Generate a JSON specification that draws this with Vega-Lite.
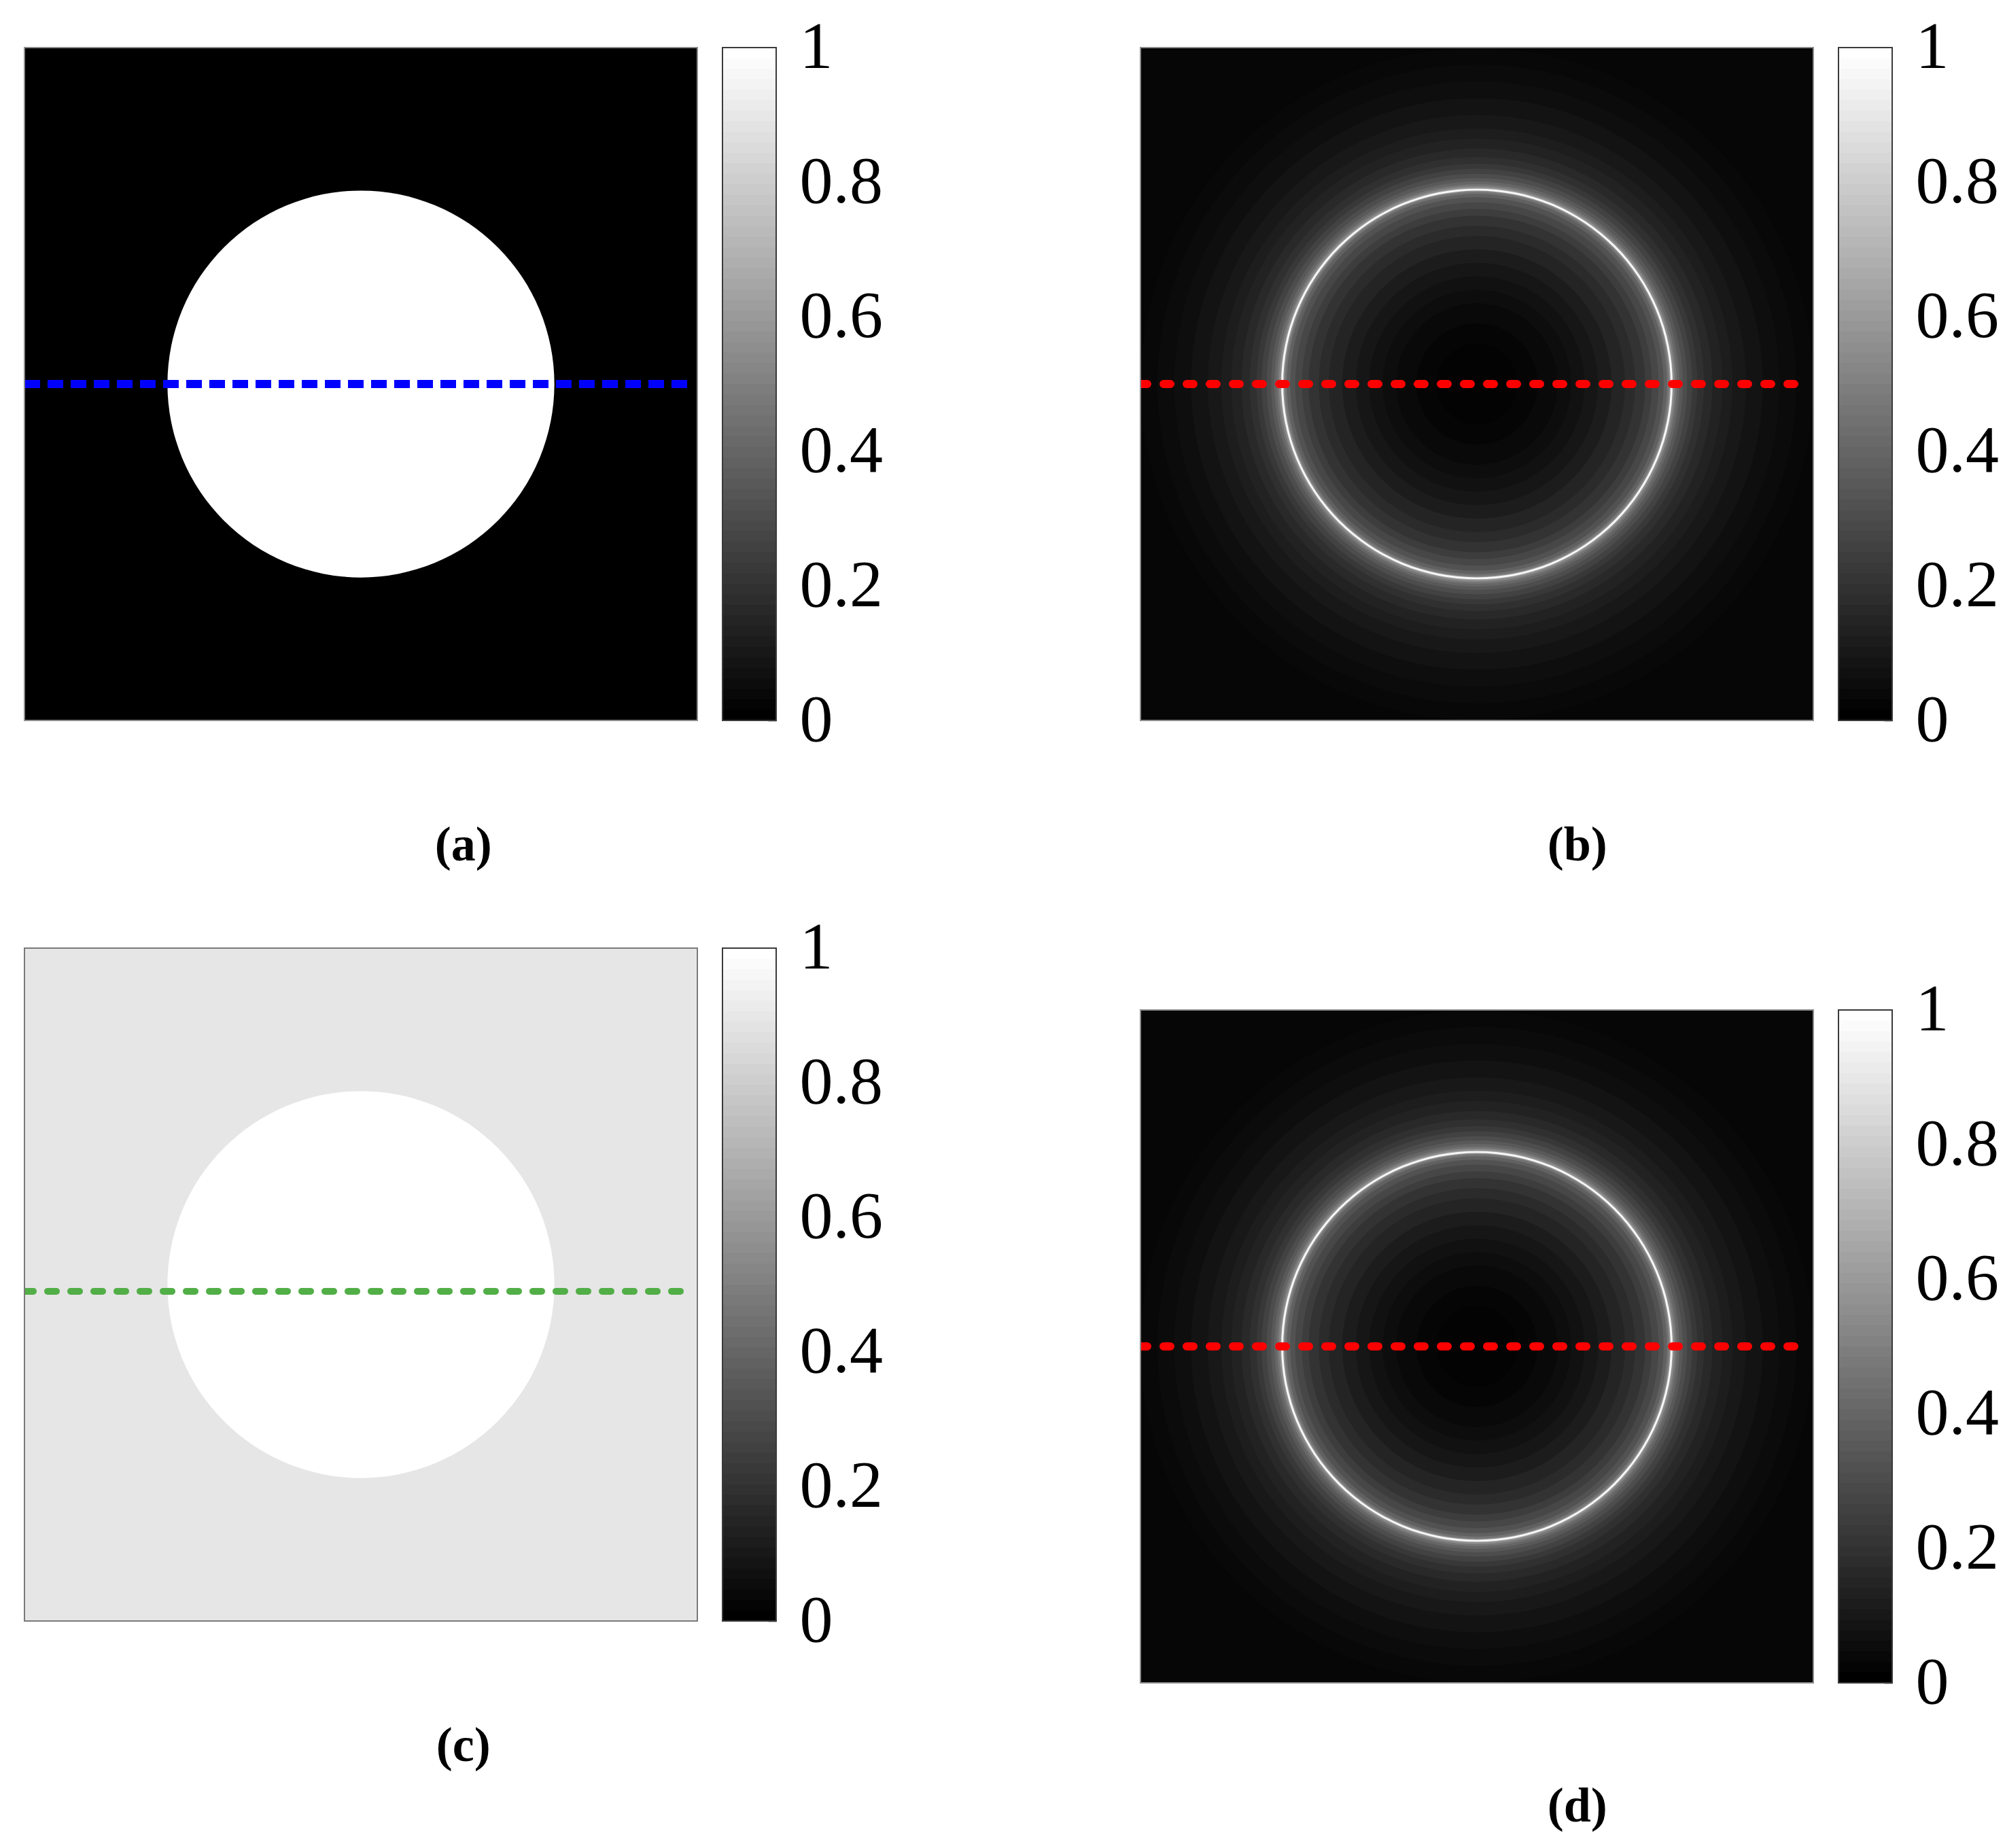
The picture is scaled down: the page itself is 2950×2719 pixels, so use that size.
{
  "$schema": "https://vega.github.io/schema/vega-lite/v6.json",
  "background": "white",
  "padding": {"left": 35, "top": 21, "right": 0, "bottom": 18},
  "config": {
    "view": {"stroke": null},
    "font": "Liberation Serif",
    "title": {"font": "Liberation Serif", "color": "#000000"}
  },
  "datasets": {
    "sq_black": [{"x0": -1, "x1": 1, "y0": -1, "y1": 1, "v": 0}],
    "sq_dark": [{"x0": -1, "x1": 1, "y0": -1, "y1": 1, "v": 0.025}],
    "sq_gray": [{"x0": -1, "x1": 1, "y0": -1, "y1": 1, "v": 0.9}],
    "disk": [{"cx": 0, "cy": 0, "r": 0.575, "v": 1}],
    "glow": [
      {"cx": 0, "cy": 0, "r": 1.0, "v": 0.033},
      {"cx": 0, "cy": 0, "r": 0.95, "v": 0.043},
      {"cx": 0, "cy": 0, "r": 0.9, "v": 0.056},
      {"cx": 0, "cy": 0, "r": 0.85, "v": 0.073},
      {"cx": 0, "cy": 0, "r": 0.8, "v": 0.093},
      {"cx": 0, "cy": 0, "r": 0.76, "v": 0.113},
      {"cx": 0, "cy": 0, "r": 0.73, "v": 0.135},
      {"cx": 0, "cy": 0, "r": 0.7, "v": 0.16},
      {"cx": 0, "cy": 0, "r": 0.675, "v": 0.19},
      {"cx": 0, "cy": 0, "r": 0.655, "v": 0.22},
      {"cx": 0, "cy": 0, "r": 0.64, "v": 0.26},
      {"cx": 0, "cy": 0, "r": 0.625, "v": 0.3},
      {"cx": 0, "cy": 0, "r": 0.612, "v": 0.35},
      {"cx": 0, "cy": 0, "r": 0.602, "v": 0.4},
      {"cx": 0, "cy": 0, "r": 0.594, "v": 0.46},
      {"cx": 0, "cy": 0, "r": 0.588, "v": 0.54},
      {"cx": 0, "cy": 0, "r": 0.583, "v": 0.65},
      {"cx": 0, "cy": 0, "r": 0.5805, "v": 0.97},
      {"cx": 0, "cy": 0, "r": 0.5745, "v": 0.55},
      {"cx": 0, "cy": 0, "r": 0.571, "v": 0.45},
      {"cx": 0, "cy": 0, "r": 0.565, "v": 0.38},
      {"cx": 0, "cy": 0, "r": 0.555, "v": 0.32},
      {"cx": 0, "cy": 0, "r": 0.54, "v": 0.28},
      {"cx": 0, "cy": 0, "r": 0.52, "v": 0.24},
      {"cx": 0, "cy": 0, "r": 0.5, "v": 0.2},
      {"cx": 0, "cy": 0, "r": 0.47, "v": 0.17},
      {"cx": 0, "cy": 0, "r": 0.44, "v": 0.14},
      {"cx": 0, "cy": 0, "r": 0.4, "v": 0.11},
      {"cx": 0, "cy": 0, "r": 0.36, "v": 0.085},
      {"cx": 0, "cy": 0, "r": 0.32, "v": 0.065},
      {"cx": 0, "cy": 0, "r": 0.28, "v": 0.05},
      {"cx": 0, "cy": 0, "r": 0.24, "v": 0.035},
      {"cx": 0, "cy": 0, "r": 0.18, "v": 0.02},
      {"cx": 0, "cy": 0, "r": 0.12, "v": 0.01}
    ],
    "line_mid": [{"x": -1, "y": 0}, {"x": 0.985, "y": 0}],
    "line_low": [{"x": -1, "y": -0.02}, {"x": 0.99, "y": -0.02}],
    "frame": [{"lo": 0, "hi": 1}],
    "cbar": [
      {"lo": 0, "v": 0}, {"lo": 0.015625, "v": 0.0159}, {"lo": 0.03125, "v": 0.0317}, {"lo": 0.046875, "v": 0.0476},
      {"lo": 0.0625, "v": 0.0635}, {"lo": 0.078125, "v": 0.0794}, {"lo": 0.09375, "v": 0.0952}, {"lo": 0.109375, "v": 0.1111},
      {"lo": 0.125, "v": 0.127}, {"lo": 0.140625, "v": 0.1429}, {"lo": 0.15625, "v": 0.1587}, {"lo": 0.171875, "v": 0.1746},
      {"lo": 0.1875, "v": 0.1905}, {"lo": 0.203125, "v": 0.2063}, {"lo": 0.21875, "v": 0.2222}, {"lo": 0.234375, "v": 0.2381},
      {"lo": 0.25, "v": 0.254}, {"lo": 0.265625, "v": 0.2698}, {"lo": 0.28125, "v": 0.2857}, {"lo": 0.296875, "v": 0.3016},
      {"lo": 0.3125, "v": 0.3175}, {"lo": 0.328125, "v": 0.3333}, {"lo": 0.34375, "v": 0.3492}, {"lo": 0.359375, "v": 0.3651},
      {"lo": 0.375, "v": 0.381}, {"lo": 0.390625, "v": 0.3968}, {"lo": 0.40625, "v": 0.4127}, {"lo": 0.421875, "v": 0.4286},
      {"lo": 0.4375, "v": 0.4444}, {"lo": 0.453125, "v": 0.4603}, {"lo": 0.46875, "v": 0.4762}, {"lo": 0.484375, "v": 0.4921},
      {"lo": 0.5, "v": 0.5079}, {"lo": 0.515625, "v": 0.5238}, {"lo": 0.53125, "v": 0.5397}, {"lo": 0.546875, "v": 0.5556},
      {"lo": 0.5625, "v": 0.5714}, {"lo": 0.578125, "v": 0.5873}, {"lo": 0.59375, "v": 0.6032}, {"lo": 0.609375, "v": 0.619},
      {"lo": 0.625, "v": 0.6349}, {"lo": 0.640625, "v": 0.6508}, {"lo": 0.65625, "v": 0.6667}, {"lo": 0.671875, "v": 0.6825},
      {"lo": 0.6875, "v": 0.6984}, {"lo": 0.703125, "v": 0.7143}, {"lo": 0.71875, "v": 0.7302}, {"lo": 0.734375, "v": 0.746},
      {"lo": 0.75, "v": 0.7619}, {"lo": 0.765625, "v": 0.7778}, {"lo": 0.78125, "v": 0.7937}, {"lo": 0.796875, "v": 0.8095},
      {"lo": 0.8125, "v": 0.8254}, {"lo": 0.828125, "v": 0.8413}, {"lo": 0.84375, "v": 0.8571}, {"lo": 0.859375, "v": 0.873},
      {"lo": 0.875, "v": 0.8889}, {"lo": 0.890625, "v": 0.9048}, {"lo": 0.90625, "v": 0.9206}, {"lo": 0.921875, "v": 0.9365},
      {"lo": 0.9375, "v": 0.9524}, {"lo": 0.953125, "v": 0.9683}, {"lo": 0.96875, "v": 0.9841}, {"lo": 0.984375, "v": 1}
    ]
  },
  "spacing": 378,
  "hconcat": [
    {
      "spacing": 66,
      "vconcat": [
        {
          "title": {"text": "(a)", "orient": "bottom", "anchor": "middle", "frame": "bounds", "fontSize": 72, "fontWeight": "bold", "offset": 100, "dx": 15},
          "bounds": "flush",
          "spacing": 37,
          "hconcat": [
            {
              "width": 990, "height": 990,
              "layer": [
                {"data": {"name": "sq_black"}, "mark": {"type": "rect"},
                 "encoding": {
                   "x": {"field": "x0", "type": "quantitative", "scale": {"domain": [-1, 1], "nice": false, "zero": false}, "axis": null},
                   "x2": {"field": "x1"},
                   "y": {"field": "y0", "type": "quantitative", "scale": {"domain": [-1, 1], "nice": false, "zero": false}, "axis": null},
                   "y2": {"field": "y1"},
                   "color": {"field": "v", "type": "quantitative", "scale": {"domain": [0, 1], "range": ["#000000", "#ffffff"], "interpolate": "rgb"}, "legend": null}
                 }},
                {"data": {"name": "disk"}, "mark": {"type": "arc", "theta": 0, "theta2": 6.2832, "clip": true},
                 "encoding": {
                   "x": {"field": "cx", "type": "quantitative", "axis": null},
                   "y": {"field": "cy", "type": "quantitative", "axis": null},
                   "radius": {"field": "r", "type": "quantitative", "stack": null, "scale": {"type": "linear", "domain": [0, 1], "range": [0, 495]}},
                   "color": {"field": "v", "type": "quantitative", "legend": null}
                 }},
                {"data": {"name": "line_mid"}, "mark": {"type": "line", "color": "#0000ff", "strokeWidth": 12, "strokeDash": [23, 11], "strokeCap": "butt", "clip": true},
                 "encoding": {
                   "x": {"field": "x", "type": "quantitative", "axis": null},
                   "y": {"field": "y", "type": "quantitative", "axis": null}
                 }},
                {"data": {"name": "sq_black"}, "mark": {"type": "rect", "filled": false, "stroke": "#8c8c8c", "strokeWidth": 2},
                 "encoding": {
                   "x": {"field": "x0", "type": "quantitative", "axis": null}, "x2": {"field": "x1"},
                   "y": {"field": "y0", "type": "quantitative", "axis": null}, "y2": {"field": "y1"}
                 }}
              ]
            },
            {
              "width": 79, "height": 990,
              "layer": [
                {"data": {"name": "cbar"}, "mark": {"type": "rect"},
                 "encoding": {
                   "y": {"field": "lo", "type": "quantitative", "scale": {"domain": [0, 1], "nice": false, "zero": false},
                         "axis": {"orient": "right", "values": [0, 0.2, 0.4, 0.6, 0.8, 1], "format": "~g", "labelFont": "Liberation Serif", "labelFontSize": 98, "labelColor": "#000000", "labelPadding": 46, "tickSize": -12, "tickColor": "#7a7a7a", "tickWidth": 2, "domain": false, "grid": false, "title": null, "labelBound": false, "labelOverlap": false, "labelFlush": false}},
                   "y2": {"datum": 1},
                   "color": {"field": "v", "type": "quantitative", "scale": {"domain": [0, 1], "range": ["#000000", "#ffffff"], "interpolate": "rgb"}, "legend": null}
                 }},
                {"data": {"name": "frame"}, "mark": {"type": "rect", "filled": false, "stroke": "#3a3a3a", "strokeWidth": 2},
                 "encoding": {
                   "y": {"field": "lo", "type": "quantitative",
                         "axis": {"orient": "right", "values": [0, 0.2, 0.4, 0.6, 0.8, 1], "format": "~g", "labelFont": "Liberation Serif", "labelFontSize": 98, "labelColor": "#000000", "labelPadding": 46, "tickSize": -12, "tickColor": "#7a7a7a", "tickWidth": 2, "domain": false, "grid": false, "title": null, "labelBound": false, "labelOverlap": false, "labelFlush": false}},
                   "y2": {"field": "hi"}
                 }}
              ]
            }
          ]
        },
        {
          "title": {"text": "(c)", "orient": "bottom", "anchor": "middle", "frame": "bounds", "fontSize": 72, "fontWeight": "bold", "offset": 100, "dx": 15},
          "bounds": "flush",
          "spacing": 37,
          "hconcat": [
            {
              "width": 990, "height": 990,
              "layer": [
                {"data": {"name": "sq_gray"}, "mark": {"type": "rect"},
                 "encoding": {
                   "x": {"field": "x0", "type": "quantitative", "scale": {"domain": [-1, 1], "nice": false, "zero": false}, "axis": null},
                   "x2": {"field": "x1"},
                   "y": {"field": "y0", "type": "quantitative", "scale": {"domain": [-1, 1], "nice": false, "zero": false}, "axis": null},
                   "y2": {"field": "y1"},
                   "color": {"field": "v", "type": "quantitative", "scale": {"domain": [0, 1], "range": ["#000000", "#ffffff"], "interpolate": "rgb"}, "legend": null}
                 }},
                {"data": {"name": "disk"}, "mark": {"type": "arc", "theta": 0, "theta2": 6.2832, "clip": true},
                 "encoding": {
                   "x": {"field": "cx", "type": "quantitative", "axis": null},
                   "y": {"field": "cy", "type": "quantitative", "axis": null},
                   "radius": {"field": "r", "type": "quantitative", "stack": null, "scale": {"type": "linear", "domain": [0, 1], "range": [0, 495]}},
                   "color": {"field": "v", "type": "quantitative", "legend": null}
                 }},
                {"data": {"name": "line_low"}, "mark": {"type": "line", "color": "#52ae47", "strokeWidth": 10, "strokeDash": [13, 21], "strokeCap": "round", "clip": true},
                 "encoding": {
                   "x": {"field": "x", "type": "quantitative", "axis": null},
                   "y": {"field": "y", "type": "quantitative", "axis": null}
                 }},
                {"data": {"name": "sq_gray"}, "mark": {"type": "rect", "filled": false, "stroke": "#7a7a7a", "strokeWidth": 2},
                 "encoding": {
                   "x": {"field": "x0", "type": "quantitative", "axis": null}, "x2": {"field": "x1"},
                   "y": {"field": "y0", "type": "quantitative", "axis": null}, "y2": {"field": "y1"}
                 }}
              ]
            },
            {
              "width": 79, "height": 990,
              "layer": [
                {"data": {"name": "cbar"}, "mark": {"type": "rect"},
                 "encoding": {
                   "y": {"field": "lo", "type": "quantitative", "scale": {"domain": [0, 1], "nice": false, "zero": false},
                         "axis": {"orient": "right", "values": [0, 0.2, 0.4, 0.6, 0.8, 1], "format": "~g", "labelFont": "Liberation Serif", "labelFontSize": 98, "labelColor": "#000000", "labelPadding": 46, "tickSize": -12, "tickColor": "#7a7a7a", "tickWidth": 2, "domain": false, "grid": false, "title": null, "labelBound": false, "labelOverlap": false, "labelFlush": false}},
                   "y2": {"datum": 1},
                   "color": {"field": "v", "type": "quantitative", "scale": {"domain": [0, 1], "range": ["#000000", "#ffffff"], "interpolate": "rgb"}, "legend": null}
                 }},
                {"data": {"name": "frame"}, "mark": {"type": "rect", "filled": false, "stroke": "#3a3a3a", "strokeWidth": 2},
                 "encoding": {
                   "y": {"field": "lo", "type": "quantitative",
                         "axis": {"orient": "right", "values": [0, 0.2, 0.4, 0.6, 0.8, 1], "format": "~g", "labelFont": "Liberation Serif", "labelFontSize": 98, "labelColor": "#000000", "labelPadding": 46, "tickSize": -12, "tickColor": "#7a7a7a", "tickWidth": 2, "domain": false, "grid": false, "title": null, "labelBound": false, "labelOverlap": false, "labelFlush": false}},
                   "y2": {"field": "hi"}
                 }}
              ]
            }
          ]
        }
      ]
    },
    {
      "spacing": 157,
      "vconcat": [
        {
          "title": {"text": "(b)", "orient": "bottom", "anchor": "middle", "frame": "bounds", "fontSize": 72, "fontWeight": "bold", "offset": 100, "dx": 12},
          "bounds": "flush",
          "spacing": 37,
          "hconcat": [
            {
              "width": 990, "height": 990,
              "layer": [
                {"data": {"name": "sq_dark"}, "mark": {"type": "rect"},
                 "encoding": {
                   "x": {"field": "x0", "type": "quantitative", "scale": {"domain": [-1, 1], "nice": false, "zero": false}, "axis": null},
                   "x2": {"field": "x1"},
                   "y": {"field": "y0", "type": "quantitative", "scale": {"domain": [-1, 1], "nice": false, "zero": false}, "axis": null},
                   "y2": {"field": "y1"},
                   "color": {"field": "v", "type": "quantitative", "scale": {"domain": [0, 1], "range": ["#000000", "#ffffff"], "interpolate": "rgb"}, "legend": null}
                 }},
                {"data": {"name": "glow"}, "mark": {"type": "arc", "theta": 0, "theta2": 6.2832, "clip": true},
                 "encoding": {
                   "x": {"field": "cx", "type": "quantitative", "axis": null},
                   "y": {"field": "cy", "type": "quantitative", "axis": null},
                   "radius": {"field": "r", "type": "quantitative", "stack": null, "scale": {"type": "linear", "domain": [0, 1], "range": [0, 495]}},
                   "color": {"field": "v", "type": "quantitative", "legend": null}
                 }},
                {"data": {"name": "line_mid"}, "mark": {"type": "line", "color": "#ff0000", "strokeWidth": 12, "strokeDash": [10, 24], "strokeCap": "round", "clip": true},
                 "encoding": {
                   "x": {"field": "x", "type": "quantitative", "axis": null},
                   "y": {"field": "y", "type": "quantitative", "axis": null}
                 }},
                {"data": {"name": "sq_dark"}, "mark": {"type": "rect", "filled": false, "stroke": "#8c8c8c", "strokeWidth": 2},
                 "encoding": {
                   "x": {"field": "x0", "type": "quantitative", "axis": null}, "x2": {"field": "x1"},
                   "y": {"field": "y0", "type": "quantitative", "axis": null}, "y2": {"field": "y1"}
                 }}
              ]
            },
            {
              "width": 79, "height": 990,
              "layer": [
                {"data": {"name": "cbar"}, "mark": {"type": "rect"},
                 "encoding": {
                   "y": {"field": "lo", "type": "quantitative", "scale": {"domain": [0, 1], "nice": false, "zero": false},
                         "axis": {"orient": "right", "values": [0, 0.2, 0.4, 0.6, 0.8, 1], "format": "~g", "labelFont": "Liberation Serif", "labelFontSize": 98, "labelColor": "#000000", "labelPadding": 46, "tickSize": -12, "tickColor": "#7a7a7a", "tickWidth": 2, "domain": false, "grid": false, "title": null, "labelBound": false, "labelOverlap": false, "labelFlush": false}},
                   "y2": {"datum": 1},
                   "color": {"field": "v", "type": "quantitative", "scale": {"domain": [0, 1], "range": ["#000000", "#ffffff"], "interpolate": "rgb"}, "legend": null}
                 }},
                {"data": {"name": "frame"}, "mark": {"type": "rect", "filled": false, "stroke": "#3a3a3a", "strokeWidth": 2},
                 "encoding": {
                   "y": {"field": "lo", "type": "quantitative",
                         "axis": {"orient": "right", "values": [0, 0.2, 0.4, 0.6, 0.8, 1], "format": "~g", "labelFont": "Liberation Serif", "labelFontSize": 98, "labelColor": "#000000", "labelPadding": 46, "tickSize": -12, "tickColor": "#7a7a7a", "tickWidth": 2, "domain": false, "grid": false, "title": null, "labelBound": false, "labelOverlap": false, "labelFlush": false}},
                   "y2": {"field": "hi"}
                 }}
              ]
            }
          ]
        },
        {
          "title": {"text": "(d)", "orient": "bottom", "anchor": "middle", "frame": "bounds", "fontSize": 72, "fontWeight": "bold", "offset": 98, "dx": 12},
          "bounds": "flush",
          "spacing": 37,
          "hconcat": [
            {
              "width": 990, "height": 990,
              "layer": [
                {"data": {"name": "sq_dark"}, "mark": {"type": "rect"},
                 "encoding": {
                   "x": {"field": "x0", "type": "quantitative", "scale": {"domain": [-1, 1], "nice": false, "zero": false}, "axis": null},
                   "x2": {"field": "x1"},
                   "y": {"field": "y0", "type": "quantitative", "scale": {"domain": [-1, 1], "nice": false, "zero": false}, "axis": null},
                   "y2": {"field": "y1"},
                   "color": {"field": "v", "type": "quantitative", "scale": {"domain": [0, 1], "range": ["#000000", "#ffffff"], "interpolate": "rgb"}, "legend": null}
                 }},
                {"data": {"name": "glow"}, "mark": {"type": "arc", "theta": 0, "theta2": 6.2832, "clip": true},
                 "encoding": {
                   "x": {"field": "cx", "type": "quantitative", "axis": null},
                   "y": {"field": "cy", "type": "quantitative", "axis": null},
                   "radius": {"field": "r", "type": "quantitative", "stack": null, "scale": {"type": "linear", "domain": [0, 1], "range": [0, 495]}},
                   "color": {"field": "v", "type": "quantitative", "legend": null}
                 }},
                {"data": {"name": "line_mid"}, "mark": {"type": "line", "color": "#ff0000", "strokeWidth": 12, "strokeDash": [10, 24], "strokeCap": "round", "clip": true},
                 "encoding": {
                   "x": {"field": "x", "type": "quantitative", "axis": null},
                   "y": {"field": "y", "type": "quantitative", "axis": null}
                 }},
                {"data": {"name": "sq_dark"}, "mark": {"type": "rect", "filled": false, "stroke": "#8c8c8c", "strokeWidth": 2},
                 "encoding": {
                   "x": {"field": "x0", "type": "quantitative", "axis": null}, "x2": {"field": "x1"},
                   "y": {"field": "y0", "type": "quantitative", "axis": null}, "y2": {"field": "y1"}
                 }}
              ]
            },
            {
              "width": 79, "height": 990,
              "layer": [
                {"data": {"name": "cbar"}, "mark": {"type": "rect"},
                 "encoding": {
                   "y": {"field": "lo", "type": "quantitative", "scale": {"domain": [0, 1], "nice": false, "zero": false},
                         "axis": {"orient": "right", "values": [0, 0.2, 0.4, 0.6, 0.8, 1], "format": "~g", "labelFont": "Liberation Serif", "labelFontSize": 98, "labelColor": "#000000", "labelPadding": 46, "tickSize": -12, "tickColor": "#7a7a7a", "tickWidth": 2, "domain": false, "grid": false, "title": null, "labelBound": false, "labelOverlap": false, "labelFlush": false}},
                   "y2": {"datum": 1},
                   "color": {"field": "v", "type": "quantitative", "scale": {"domain": [0, 1], "range": ["#000000", "#ffffff"], "interpolate": "rgb"}, "legend": null}
                 }},
                {"data": {"name": "frame"}, "mark": {"type": "rect", "filled": false, "stroke": "#3a3a3a", "strokeWidth": 2},
                 "encoding": {
                   "y": {"field": "lo", "type": "quantitative",
                         "axis": {"orient": "right", "values": [0, 0.2, 0.4, 0.6, 0.8, 1], "format": "~g", "labelFont": "Liberation Serif", "labelFontSize": 98, "labelColor": "#000000", "labelPadding": 46, "tickSize": -12, "tickColor": "#7a7a7a", "tickWidth": 2, "domain": false, "grid": false, "title": null, "labelBound": false, "labelOverlap": false, "labelFlush": false}},
                   "y2": {"field": "hi"}
                 }}
              ]
            }
          ]
        }
      ]
    }
  ]
}
